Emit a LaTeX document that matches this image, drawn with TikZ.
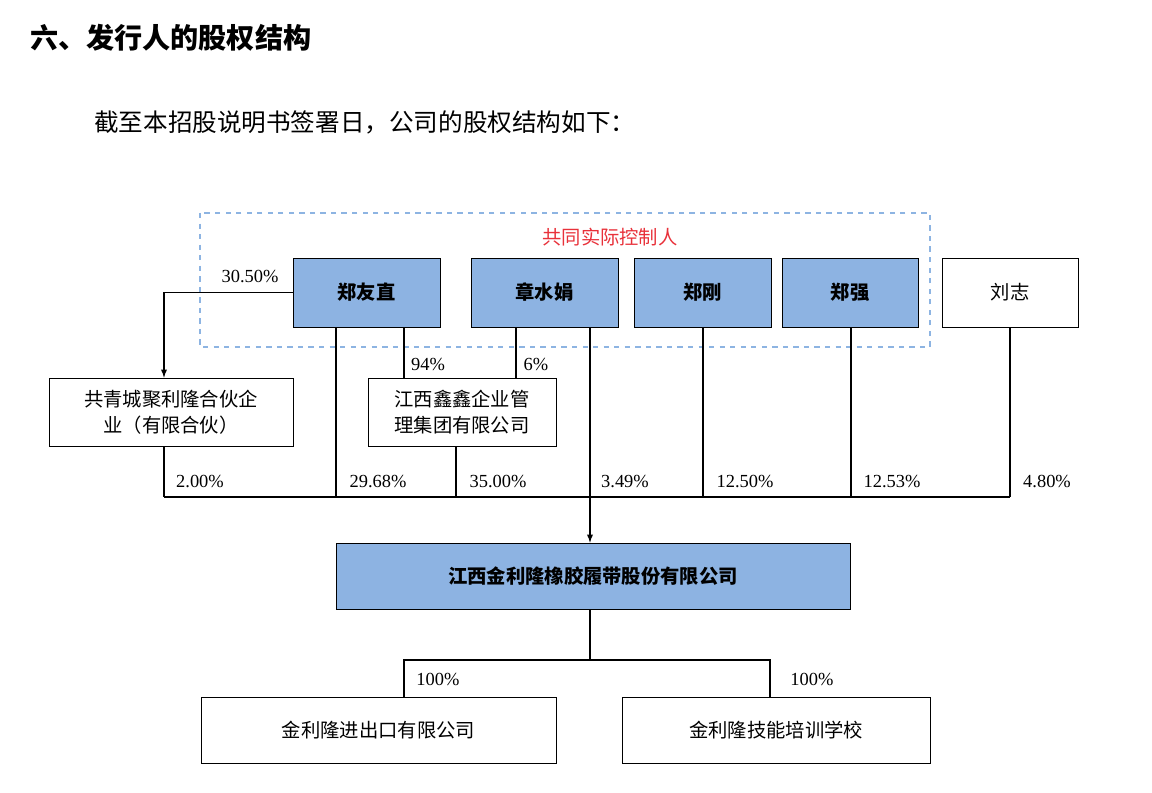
\documentclass[tikz,border=0pt]{standalone}
\usepackage{fontspec}
\setmainfont{Liberation Serif}
\newfontfamily\cjk{Noto Sans CJK SC}
\definecolor{boxblue}{HTML}{8DB3E2}
\definecolor{dashblue}{HTML}{8DB4E2}
\definecolor{ctrlred}{HTML}{E8313A}
% box: #1 name, #2 x1, #3 y1, #4 x2, #5 y2, #6 style, #7 text
\newcommand{\mkbox}[7]{%
	\node[#6,minimum width={(#4-#2)*0.02cm},minimum height={(#5-#3)*0.02cm}] (#1) at ({(#2+#4)/2},{(#3+#5)/2}) {#7};
}
\newcommand{\pct}[3]{\node[pcttext] at (#1,#2) {#3};}
\begin{document}
\begin{tikzpicture}[x=0.02cm,y=-0.02cm,
	ownerbox/.style={draw,fill=boxblue,font=\cjk\bfseries\fontsize{11}{13}\selectfont,inner sep=0pt},
	plainbox/.style={draw,fill=white,font=\cjk\fontsize{11}{15}\selectfont,inner sep=0pt,align=center},
	pcttext/.style={font=\fontsize{10.5}{12}\selectfont,inner sep=0pt},
	link/.style={line width=0.6pt}]
	\useasboundingbox (0,0) rectangle (1152,793);
	
	% Headings
	\node[anchor=west,font=\cjk\bfseries\fontsize{16}{18}\selectfont] (title) at (24,38) {六、发行人的股权结构};
	\node[anchor=west,font=\cjk\fontsize{14}{16}\selectfont] (intro) at (88,122) {截至本招股说明书签署日，公司的股权结构如下：};
	
	% Controllers group
	\draw[dashblue,dashed,line width=1.2pt] (200,213) rectangle (930,347);
	\node[ctrlred,font=\cjk\fontsize{11}{13}\selectfont] (group) at (610,237) {共同实际控制人};
	
	% Shareholders
	\mkbox{zyz}{293}{258}{440}{327}{ownerbox}{郑友直}
	\mkbox{zsj}{471}{258}{618}{327}{ownerbox}{章水娟}
	\mkbox{zg}{634}{258}{771}{327}{ownerbox}{郑刚}
	\mkbox{zq}{782}{258}{918}{327}{ownerbox}{郑强}
	\mkbox{lz}{942}{258}{1078}{327}{plainbox}{刘志}
	\mkbox{gqc}{49}{378}{293}{446}{plainbox}{共青城聚利隆合伙企\\业（有限合伙）}
	\mkbox{xx}{368}{378}{556}{446}{plainbox}{江西鑫鑫企业管\\理集团有限公司}
	
	% Company and subsidiaries
	\mkbox{jll}{336}{543}{850}{609}{ownerbox}{江西金利隆橡胶履带股份有限公司}
	\mkbox{jck}{201}{697}{556}{763}{plainbox}{金利隆进出口有限公司}
	\mkbox{px}{622}{697}{930}{763}{plainbox}{金利隆技能培训学校}
	
	% Upper links
	\draw[link,-latex] (zyz.west) -| (gqc.north -| 164,0);
	\draw[link] (zyz.south -| 404,0) -- (xx.north -| 404,0);
	\draw[link] (zsj.south -| 516,0) -- (xx.north -| 516,0);
	\pct{250}{276}{30.50\%}
	\pct{428}{364}{94\%}
	\pct{536}{364}{6\%}
	
	% Bus to company
	\draw[link] (164,497) -- (1010,497);
	\draw[link] (gqc.south -| 164,0) -- (164,497);
	\draw[link] (zyz.south -| 336,0) -- (336,497);
	\draw[link] (xx.south -| 456,0) -- (456,497);
	\draw[link,-latex] (zsj.south -| 590,0) -- (jll.north -| 590,0);
	\draw[link] (zg.south -| 703,0) -- (703,497);
	\draw[link] (zq.south -| 851,0) -- (851,497);
	\draw[link] (lz.south -| 1010,0) -- (1010,497);
	\pct{200}{481}{2.00\%}
	\pct{378}{481}{29.68\%}
	\pct{498}{481}{35.00\%}
	\pct{625}{481}{3.49\%}
	\pct{745}{481}{12.50\%}
	\pct{892}{481}{12.53\%}
	\pct{1047}{481}{4.80\%}
	
	% Subsidiaries
	\draw[link] (jll.south -| 590,0) -- (590,660);
	\draw[link] (jck.north -| 404,0) |- (770,660) -- (px.north -| 770,0);
	\pct{438}{679}{100\%}
	\pct{812}{679}{100\%}
\end{tikzpicture}
\end{document}
